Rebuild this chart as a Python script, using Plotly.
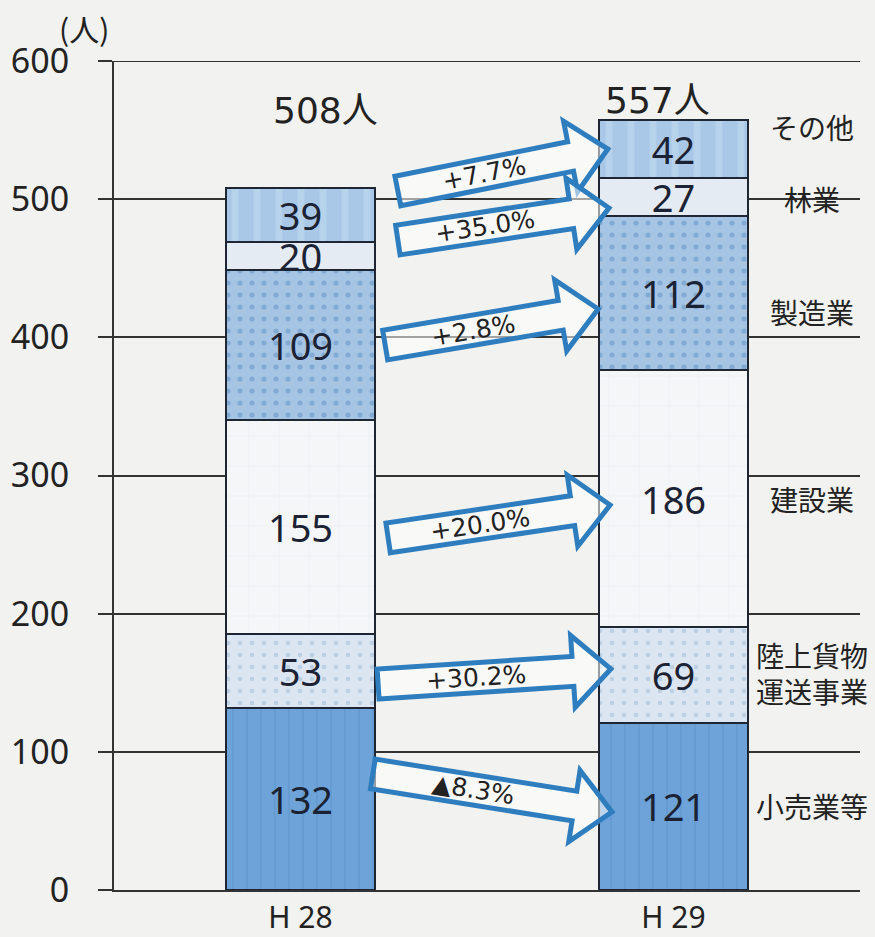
import math
import plotly.graph_objects as go

# ---------------- data ----------------
years = ["H 28", "H 29"]
categories = ["小売業等", "陸上貨物運送事業", "建設業", "製造業", "林業", "その他"]
right_labels = ["小売業等", "陸上貨物<br>運送事業", "建設業", "製造業", "林業", "その他"]
h28_values = [132, 53, 155, 109, 20, 39]
h29_values = [121, 69, 186, 112, 27, 42]
totals = [508, 557]
total_labels = ["508人", "557人"]
y_ticks = [0, 100, 200, 300, 400, 500, 600]

# right-side category label heights (data units)
right_label_y = [61, 157, 283, 418, 500, 552]

# change arrows: label, start (x, y) and tip (x, y) in data units
arrow_labels = ["+7.7%", "+35.0%", "+2.8%", "+20.0%", "+30.2%", "▲8.3%"]
arrow_x0 = [0.261, 0.261, 0.227, 0.235, 0.208, 0.194]
arrow_y0 = [505.9, 470.4, 394.4, 254.8, 149.1, 84.0]
arrow_x1 = [0.824, 0.827, 0.798, 0.830, 0.832, 0.835]
arrow_y1 = [536.3, 493.6, 420.5, 278.6, 160.0, 56.5]

# ---------------- styles ----------------
seg_colors = ["#6da3d8", "#dbe6f2", "#f5f6f8", "#a6c5e4", "#e4ebf3", "#a9c8e7"]
seg_patterns = [
    dict(shape="|", fgcolor="#5a90c9", size=14, solidity=0.12),
    dict(shape=".", fgcolor="#9fb8d4", size=12, solidity=0.12),
    dict(shape="+", fgcolor="#dfe5ee", size=30, solidity=0.04),
    dict(shape=".", fgcolor="#5d8fc2", size=12, solidity=0.15),
    dict(shape="", fgcolor="#ffffff"),
    dict(shape="|", fgcolor="#c6dbef", size=22, solidity=0.3),
]
BG = "#f2f2f0"
INK = "#222222"
EDGE = "#1e2533"
ARROW = "#2e7ebf"
GRID = "#333333"

W, H = 875, 937
ML, MR, MT, MB = 114, 15, 61, 47
XR = [-0.5, 1.5]
YR = [0, 600]
PW = W - ML - MR
PH = H - MT - MB
sx = PW / (XR[1] - XR[0])
sy = PH / (YR[1] - YR[0])


def to_px(x, y):
    return ML + (x - XR[0]) * sx, MT + (YR[1] - y) * sy


def to_data(px, py):
    return (px - ML) / sx + XR[0], YR[1] - (py - MT) / sy


fig = go.Figure()
for i, cat in enumerate(categories):
    vals = [h28_values[i], h29_values[i]]
    fig.add_trace(go.Bar(
        x=[0, 1], y=vals, name=cat,
        text=[str(v) for v in vals],
        textposition="inside", insidetextanchor="middle",
        textangle=0, constraintext="none",
        textfont=dict(family="Noto Sans", size=38, color="#1b2233"),
        marker=dict(color=seg_colors[i], pattern=seg_patterns[i],
                    line=dict(color=EDGE, width=2)),
        width=0.4, showlegend=False, hoverinfo="skip",
    ))

shapes = []
annotations = []

# top gridline at the range edge
shapes.append(dict(type="line", xref="paper", yref="y", x0=0, x1=1,
                   y0=YR[1], y1=YR[1], line=dict(color=GRID, width=1.8), layer="below"))

# arrows
T, HW, HL = 15, 36, 38
for lab, x0, y0, x1, y1 in zip(arrow_labels, arrow_x0, arrow_y0, arrow_x1, arrow_y1):
    p0 = to_px(x0, y0)
    p1 = to_px(x1, y1)
    dx, dy = p1[0] - p0[0], p1[1] - p0[1]
    L = math.hypot(dx, dy)
    ux, uy = dx / L, dy / L
    nx, ny = -uy, ux
    bx, by = p1[0] - ux * HL, p1[1] - uy * HL
    pts = [
        (p0[0] + nx * T, p0[1] + ny * T),
        (bx + nx * T, by + ny * T),
        (bx + nx * HW, by + ny * HW),
        p1,
        (bx - nx * HW, by - ny * HW),
        (bx - nx * T, by - ny * T),
        (p0[0] - nx * T, p0[1] - ny * T),
    ]
    dpts = [to_data(*p) for p in pts]
    path = "M " + " L ".join(f"{a:.4f},{b:.3f}" for a, b in dpts) + " Z"
    shapes.append(dict(type="path", path=path, xref="x", yref="y",
                       line=dict(color=ARROW, width=5),
                       fillcolor="rgba(255,255,255,0.55)", layer="above"))
    mx, my = p0[0] + ux * (L - HL) / 2, p0[1] + uy * (L - HL) / 2
    tx, ty = to_data(mx, my)
    annotations.append(dict(x=tx, y=ty, xref="x", yref="y", text=lab,
                            showarrow=False, textangle=math.degrees(math.atan2(dy, dx)),
                            font=dict(family="DejaVu Sans", size=25, color=INK)))

# totals
tot_xshift = [25, -16]
tot_yshift = [78, 20]
for i, t in enumerate(totals):
    annotations.append(dict(x=i, y=t, xref="x", yref="y", text=total_labels[i],
                            showarrow=False, xshift=tot_xshift[i], yshift=tot_yshift[i],
                            font=dict(family="DejaVu Sans, Noto Sans CJK JP", size=36, color=INK)))

# right labels
rx, _ = to_data(812, 0)
for lab, yv in zip(right_labels, right_label_y):
    annotations.append(dict(x=rx, y=yv, xref="x", yref="y", text=lab,
                            showarrow=False,
                            font=dict(family="Noto Sans CJK JP", size=28, color=INK)))

# unit label (paper coords)
annotations.append(dict(x=(84 - ML) / PW, y=(H - MB - 28) / PH, xref="paper", yref="paper",
                        xanchor="center", yanchor="middle",
                        text="(人)", showarrow=False,
                        font=dict(family="Noto Sans CJK JP", size=30, color=INK)))

fig.update_layout(
    width=W, height=H, autosize=False,
    margin=dict(l=ML, r=MR, t=MT, b=MB),
    paper_bgcolor=BG, plot_bgcolor=BG,
    barmode="stack", bargap=0.6,
    shapes=shapes, annotations=annotations,
    xaxis=dict(range=XR, tickvals=[0, 1], ticktext=years, showgrid=False,
               zeroline=False, showline=True, linecolor=GRID, linewidth=2,
               ticks="", tickfont=dict(family="Noto Sans", size=30, color=INK),
               ticklabelstandoff=0, automargin=False, fixedrange=True),
    yaxis=dict(range=YR, tickvals=y_ticks, showgrid=True, gridcolor=GRID,
               gridwidth=1.8, zeroline=False, showline=True, linecolor=GRID,
               linewidth=2, ticks="outside", ticklen=14, tickwidth=2, tickcolor=GRID,
               tickfont=dict(family="Noto Sans", size=34, color=INK),
               ticklabelstandoff=22, automargin=False, fixedrange=True),
)

fig.write_html(
    "out.html",
    config={"responsive": False, "displayModeBar": False},
    post_script="document.body.style.margin='0px';document.body.style.overflow='hidden';",
)
